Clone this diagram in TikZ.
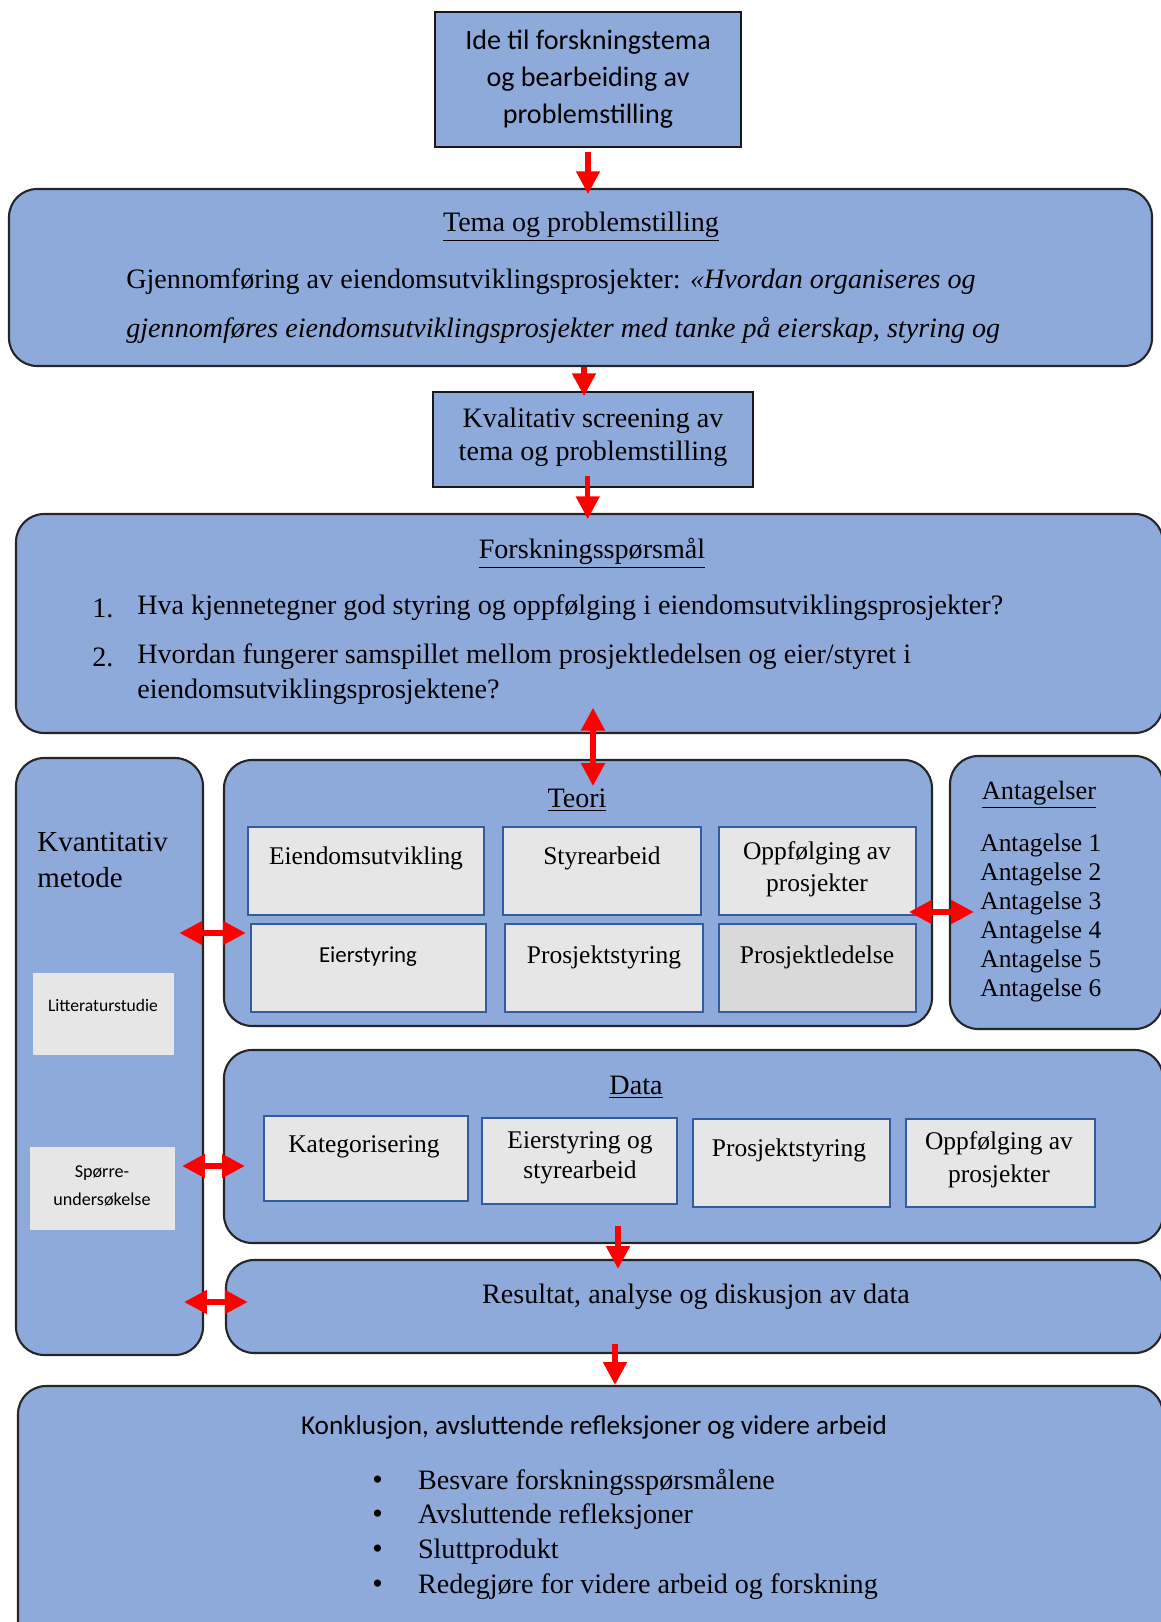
\documentclass[tikz,border=0pt]{standalone}
\usepackage{fontspec}
\setmainfont{Liberation Serif}
\newfontfamily\calibri{Carlito}
\usepackage{xcolor}
\usepackage{tikz}
\usetikzlibrary{shapes.geometric, arrows, positioning}
\usetikzlibrary{arrows.meta, calc, fit}
\definecolor{boxblue}{RGB}{142,170,219}
\definecolor{subgray}{RGB}{231,230,230}
\definecolor{subdark}{RGB}{217,217,217}
\definecolor{subedge}{RGB}{52,90,160}
\tikzstyle{bigbox} = [rectangle, rounded corners=16pt, draw=black!85, line width=1.2pt, fill=boxblue, inner sep=0pt]
\tikzstyle{plainbox} = [rectangle, draw=black!90, line width=1.2pt, fill=boxblue, inner sep=0pt]
\tikzstyle{subbox} = [rectangle, draw=subedge, line width=1pt, fill=subgray, inner sep=0pt]
\tikzstyle{txt} = [inner sep=0pt, align=center, font=\fontsize{16}{19}\selectfont]
\tikzstyle{subtxt} = [inner sep=0pt, align=center, font=\fontsize{14.5}{18}\selectfont]
\tikzstyle{caltxt} = [inner sep=0pt, align=center, font=\calibri\fontsize{16}{21}\selectfont]
\tikzstyle{arrow} = [red, line width=3pt, -{Triangle[length=13pt, width=13pt]}]
\tikzstyle{dblarrow} = [red, line width=3pt, {Triangle[length=13pt, width=13pt]}-{Triangle[length=13pt, width=13pt]}]
\newcommand{\konkbullet}{\makebox[26pt][l]{\fontsize{17}{17}\selectfont\textbullet}}

\begin{document}
\begin{tikzpicture}[x=0.02cm, y=-0.02cm]
    \useasboundingbox (0,0) rectangle (1160,1622);

    % top part
    \node (ide) [plainbox, fit={(435,12) (741,147)}] {};
    \node (idetxt) [caltxt] at (588,79) {Ide til forskningstema\\og bearbeiding av\\problemstilling};

    \node (tema) [bigbox, fit={(9,189) (1152,366)}] {};
    \node (tematitle) [txt] at (581,227) {\underline{Tema og problemstilling}};
    \node (temaline1) [txt, anchor=west] at (126,282) {Gjennomføring av eiendomsutviklingsprosjekter: \textit{«Hvordan organiseres og}};
    \node (temaline2) [txt, anchor=west] at (126,330) {\textit{gjennomføres eiendomsutviklingsprosjekter med tanke på eierskap, styring og}};

    \node (kval) [plainbox, fit={(433,392) (753,487)}] {};
    \node (kvaltxt) [txt, font=\fontsize{16}{18.8}\selectfont] at (593,437) {Kvalitativ screening av\\tema og problemstilling};

    \node (forsk) [bigbox, fit={(16,514) (1163,733)}] {};
    \node (forsktitle) [txt] at (592,553) {\underline{Forskningsspørsmål}};
    \node (num1) [txt, anchor=west] at (92,608) {1.};
    \node (q1) [txt, anchor=west] at (137,608) {Hva kjennetegner god styring og oppfølging i eiendomsutviklingsprosjekter?};
    \node (num2) [txt, anchor=west] at (92,657) {2.};
    \node (q2) [txt, align=left, anchor=west, font=\fontsize{16}{20}\selectfont] at (137,674.5) {Hvordan fungerer samspillet mellom prosjektledelsen og eier/styret i\\eiendomsutviklingsprosjektene?};

    % method column
    \node (kvant) [bigbox, fit={(16,758) (203,1355)}] {};
    \node (kvanttxt) [txt, align=left, anchor=west, font=\fontsize{16.5}{20.5}\selectfont] at (37,860) {Kvantitativ\\metode};
    \node (litt) [subbox, draw=none, fit={(33,973) (174,1055)}] {};
    \node (litttxt) [caltxt, font=\calibri\fontsize{10}{12}\selectfont] at (103,1005) {Litteraturstudie};
    \node (sporre) [subbox, draw=none, fit={(30,1147) (175,1230)}] {};
    \node (sporretxt) [caltxt, font=\calibri\fontsize{10.3}{16}\selectfont] at (102,1186) {Spørre-\\undersøkelse};

    % theory
    \node (teori) [bigbox, fit={(224,760) (932,1026)}] {};
    \node (teorititle) [txt] at (577,800) {\underline{Teori}};
    \node (eiend) [subbox, fit={(248,827) (484,915)}] {};
    \node (styre) [subbox, fit={(503,827) (701,915)}] {};
    \node (oppf) [subbox, fit={(719,827) (916,915)}] {};
    \node (eier) [subbox, fit={(251,924) (486,1012)}] {};
    \node (pstyr) [subbox, fit={(505,924) (703,1012)}] {};
    \node (pled) [subbox, fill=subdark, fit={(719,924) (916,1012)}] {};
    \node (eiendtxt) [subtxt] at (366,858) {Eiendomsutvikling};
    \node (styretxt) [subtxt] at (602,858) {Styrearbeid};
    \node (oppftxt) [subtxt] at (817,869) {Oppfølging av\\prosjekter};
    \node (eiertxt) [caltxt, font=\calibri\fontsize{13}{16}\selectfont] at (368,957) {Eierstyring};
    \node (pstyrtxt) [subtxt] at (604,957) {Prosjektstyring};
    \node (pledtxt) [subtxt] at (817,957) {Prosjektledelse};

    % assumptions
    \node (antag) [bigbox, fit={(950,756) (1163,1029)}] {};
    \node (antagtitle) [txt, font=\fontsize{15}{18}\selectfont] at (1039,795) {\underline{Antagelser}};
    \node (antaglist) [subtxt, align=left, anchor=west, font=\fontsize{14.5}{16.5}\selectfont] at (980,917.5) {Antagelse 1\\Antagelse 2\\Antagelse 3\\Antagelse 4\\Antagelse 5\\Antagelse 6};

    % data
    \node (data) [bigbox, fit={(224,1050) (1163,1243)}] {};
    \node (datatitle) [txt] at (636,1087) {\underline{Data}};
    \node (kat) [subbox, fit={(264,1116) (468,1201)}] {};
    \node (eierstyr) [subbox, fit={(482,1118) (677,1204)}] {};
    \node (pstyr2) [subbox, fit={(693,1119) (890,1207)}] {};
    \node (oppf2) [subbox, fit={(906,1119) (1095,1207)}] {};
    \node (kattxt) [subtxt] at (364,1147) {Kategorisering};
    \node (eierstyrtxt) [subtxt, font=\fontsize{14.5}{17}\selectfont] at (580,1158) {Eierstyring og\\styrearbeid};
    \node (pstyr2txt) [subtxt] at (789,1150) {Prosjektstyring};
    \node (oppf2txt) [subtxt, font=\fontsize{14.5}{18.8}\selectfont] at (999,1160) {Oppfølging av\\prosjekter};

    \node (res) [bigbox, fit={(226,1260) (1163,1353)}] {};
    \node (restxt) [txt] at (696,1297) {Resultat, analyse og diskusjon av data};

    % conclusion
    \node (konk) [bigbox, fit={(18,1386) (1163,1660)}] {};
    \node (konktitle) [caltxt, font=\calibri\fontsize{15.5}{19}\selectfont] at (594,1427) {Konklusjon, avsluttende refleksjoner og videre arbeid};
    \node (konkpts) [txt, align=left, anchor=west, font=\fontsize{16}{19.7}\selectfont] at (372,1534) {\konkbullet Besvare forskningsspørsmålene\\\konkbullet Avsluttende refleksjoner\\\konkbullet Sluttprodukt\\\konkbullet Redegjøre for videre arbeid og forskning};

    % arrows
    \draw [arrow, shorten <=2pt, shorten >=-3.5pt] (ide.south) -- (ide.south |- tema.north);
    \draw [arrow, shorten >=-3pt] ([xshift=2pt]tema.south) -- ([xshift=2pt]tema.south |- kval.north);
    \draw [arrow, shorten <=-7pt, shorten >=-3.5pt] ([xshift=-3pt]kval.south) -- ([xshift=-3pt]kval.south |- forsk.north);
    \draw [dblarrow, shorten <=-15pt, shorten >=-15.4pt] ([xshift=2pt]forsk.south) -- ([xshift=2pt]forsk.south |- teori.north);
    \draw [dblarrow, shorten <=-14pt, shorten >=-13pt] (kvant.east |- 0,933) -- (teori.west |- 0,933);
    \draw [dblarrow, shorten <=-13.7pt, shorten >=-14.2pt] (teori.east |- 0,912) -- (antag.west |- 0,912);
    \draw [dblarrow, shorten <=-12.5pt, shorten >=-12.5pt] (kvant.east |- 0,1166) -- (data.west |- 0,1166);
    \draw [dblarrow, shorten <=-11.4pt, shorten >=-13pt] (kvant.east |- 0,1302) -- (res.west |- 0,1302);
    \draw [arrow, shorten <=-10pt, shorten >=-5.7pt] (618,0 |- data.south) -- (618,0 |- res.north);
    \draw [arrow, shorten <=-5.7pt] (615,0 |- res.south) -- (615,0 |- konk.north);
\end{tikzpicture}
\end{document}
